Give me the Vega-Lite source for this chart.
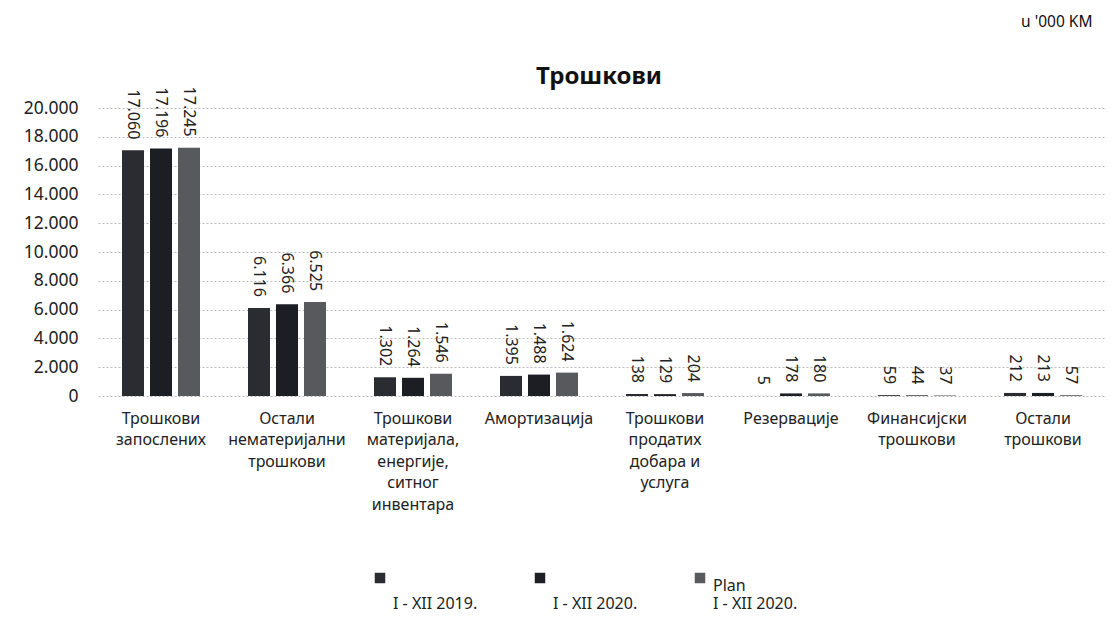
{
  "$schema": "https://vega.github.io/schema/vega-lite/v6.json",
  "width": 1008,
  "height": 288,
  "autosize": {"type": "none"},
  "padding": {"left": 98, "top": 108, "right": 14, "bottom": 232},
  "background": "white",
  "config": {
    "locale": {"number": {"decimal": ",", "thousands": ".", "grouping": [3], "currency": ["", ""]}},
    "view": {"stroke": null},
    "font": "Noto Sans"
  },
  "title": {
    "text": "Трошкови",
    "anchor": "middle",
    "frame": "group",
    "fontSize": 24,
    "fontWeight": "bold",
    "font": "Noto Sans",
    "color": "#111",
    "offset": -75,
    "dx": -3
  },
  "data": {
    "values": [
      {"category": "Трошкови\nзапослених", "series": " \nI - XII 2019.", "value": 17060},
      {"category": "Трошкови\nзапослених", "series": " \nI - XII 2020.", "value": 17196},
      {"category": "Трошкови\nзапослених", "series": "Plan\nI - XII 2020.", "value": 17245},
      {"category": "Остали\nнематеријални\nтрошкови", "series": " \nI - XII 2019.", "value": 6116},
      {"category": "Остали\nнематеријални\nтрошкови", "series": " \nI - XII 2020.", "value": 6366},
      {"category": "Остали\nнематеријални\nтрошкови", "series": "Plan\nI - XII 2020.", "value": 6525},
      {"category": "Трошкови\nматеријала,\nенергије,\nситног\nинвентара", "series": " \nI - XII 2019.", "value": 1302},
      {"category": "Трошкови\nматеријала,\nенергије,\nситног\nинвентара", "series": " \nI - XII 2020.", "value": 1264},
      {"category": "Трошкови\nматеријала,\nенергије,\nситног\nинвентара", "series": "Plan\nI - XII 2020.", "value": 1546},
      {"category": "Амортизација", "series": " \nI - XII 2019.", "value": 1395},
      {"category": "Амортизација", "series": " \nI - XII 2020.", "value": 1488},
      {"category": "Амортизација", "series": "Plan\nI - XII 2020.", "value": 1624},
      {"category": "Трошкови\nпродатих\nдобара и\nуслуга", "series": " \nI - XII 2019.", "value": 138},
      {"category": "Трошкови\nпродатих\nдобара и\nуслуга", "series": " \nI - XII 2020.", "value": 129},
      {"category": "Трошкови\nпродатих\nдобара и\nуслуга", "series": "Plan\nI - XII 2020.", "value": 204},
      {"category": "Резервације", "series": " \nI - XII 2019.", "value": 5},
      {"category": "Резервације", "series": " \nI - XII 2020.", "value": 178},
      {"category": "Резервације", "series": "Plan\nI - XII 2020.", "value": 180},
      {"category": "Финансијски\nтрошкови", "series": " \nI - XII 2019.", "value": 59},
      {"category": "Финансијски\nтрошкови", "series": " \nI - XII 2020.", "value": 44},
      {"category": "Финансијски\nтрошкови", "series": "Plan\nI - XII 2020.", "value": 37},
      {"category": "Остали\nтрошкови", "series": " \nI - XII 2019.", "value": 212},
      {"category": "Остали\nтрошкови", "series": " \nI - XII 2020.", "value": 213},
      {"category": "Остали\nтрошкови", "series": "Plan\nI - XII 2020.", "value": 57}
    ]
  },
  "encoding": {
    "x": {
      "field": "category",
      "type": "nominal",
      "sort": null,
      "scale": {"paddingInner": 0.3333, "paddingOuter": 0.1667},
      "axis": {
        "title": null,
        "labelAngle": 0,
        "labelExpr": "split(datum.label, '\\n')",
        "labelFont": "Noto Sans",
        "labelFontSize": 16,
        "labelColor": "#222",
        "labelLineHeight": 21.5,
        "labelPadding": 14,
        "labelBaseline": "top",
        "ticks": false,
        "domain": false,
        "labelLimit": 200
      }
    },
    "xOffset": {
      "field": "series",
      "type": "nominal",
      "sort": null,
      "scale": {"paddingInner": 0.214, "paddingOuter": 0.107}
    },
    "y": {
      "field": "value",
      "type": "quantitative",
      "scale": {"domain": [0, 20000], "nice": false},
      "axis": {
        "title": "u '000 KM",
        "titleFont": "Noto Sans",
        "titleAngle": 0,
        "titleAlign": "right",
        "titleBaseline": "middle",
        "titleX": 994,
        "titleY": -87,
        "titleFontSize": 15.5,
        "titleFontWeight": "normal",
        "titleColor": "#111",
        "values": [0, 2000, 4000, 6000, 8000, 10000, 12000, 14000, 16000, 18000, 20000],
        "format": ",d",
        "labelFont": "Noto Sans",
        "labelFontSize": 17.5,
        "labelColor": "#222",
        "labelPadding": 20,
        "ticks": false,
        "domain": false,
        "gridColor": "#bbbbbb",
        "gridDash": [2, 2],
        "gridWidth": 1
      }
    }
  },
  "layer": [
    {
      "mark": {"type": "bar"},
      "encoding": {
        "color": {
          "field": "series",
          "type": "nominal",
          "sort": null,
          "scale": {"range": ["#2a2c31", "#1c1e23", "#58595c"]},
          "legend": {
            "title": null,
            "orient": "none",
            "direction": "horizontal",
            "legendX": 274,
            "legendY": 462,
            "symbolType": "square",
            "symbolSize": 110,
            "symbolStrokeWidth": 0,
            "labelExpr": "split(datum.label, '\\n')",
            "labelFont": "Noto Sans",
            "labelFontSize": 16,
            "labelColor": "#222",
            "labelOffset": 5,
            "labelBaseline": "top",
            "columnPadding": 54,
            "labelLimit": 200
          }
        }
      }
    },
    {
      "mark": {"type": "text", "angle": 90, "align": "right", "baseline": "middle", "dx": -11, "fontSize": 16, "font": "Noto Sans", "color": "#222"},
      "encoding": {
        "text": {"field": "value", "type": "quantitative", "format": ",d"}
      }
    }
  ]
}
